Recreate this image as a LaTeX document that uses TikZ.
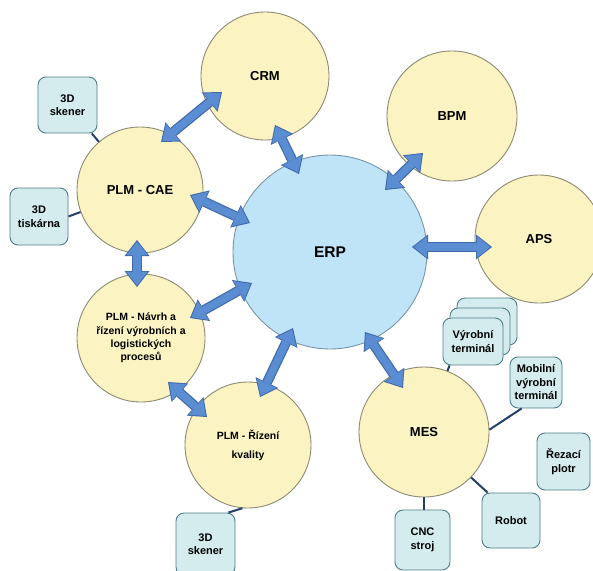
\documentclass[tikz,border=0pt]{standalone}
\usepackage{fontspec}
\setmainfont{Liberation Sans}
\usetikzlibrary{arrows.meta,calc}
\definecolor{yfill}{RGB}{251,243,193}
\definecolor{ydraw}{RGB}{140,138,115}
\definecolor{efill}{RGB}{191,228,247}
\definecolor{edraw}{RGB}{120,150,170}
\definecolor{bfill}{RGB}{213,236,239}
\definecolor{bdraw}{RGB}{78,125,135}
\definecolor{linkc}{RGB}{35,64,106}
\definecolor{arrf}{RGB}{91,141,211}
\definecolor{arrd}{RGB}{63,105,170}
\newcommand\biarr[2]{\draw[arrout] #1 -- #2; \draw[arrin] #1 -- #2;}
\begin{document}
\begin{tikzpicture}[x=1pt,y=1pt,
  yc/.style={circle,draw=ydraw,fill=yfill,line width=0.9pt,inner sep=0pt,align=center,
    font=\bfseries\fontsize{13}{15}\selectfont},
  box/.style={rounded corners=8pt,draw=bdraw,fill=bfill,line width=0.9pt,inner sep=0pt,align=center,
    font=\bfseries\fontsize{11}{13.5}\selectfont},
  link/.style={draw=linkc,line width=2pt},
  arrout/.style={draw=arrd,line width=10pt,
    {Triangle[width=25pt,length=16pt,line width=0pt]}-{Triangle[width=25pt,length=16pt,line width=0pt]}},
  arrin/.style={draw=arrf,line width=7.6pt,shorten <=1.7pt,shorten >=1.7pt,
    {Triangle[width=21.5pt,length=13.5pt,line width=0pt]}-{Triangle[width=21.5pt,length=13.5pt,line width=0pt]}},
]
\clip (0,0) rectangle (593,-570);
\fill[white] (0,0) rectangle (593,-570);

% main circles
\node[circle,draw=edraw,fill=efill,line width=0.9pt,minimum size=194pt,inner sep=0pt,
  font=\bfseries\fontsize{15.5}{17}\selectfont] (erp) at (330,-252) {ERP};
\node[yc,minimum size=128pt] (crm) at (265,-76) {CRM};
\node[yc,minimum size=130pt] (bpm) at (452,-116) {BPM};
\node[yc,minimum size=128pt] (aps) at (539,-239) {APS};
\node[yc,minimum size=126pt] (cae) at (140,-190) {PLM - CAE};
\node[yc,minimum size=128pt,font=\bfseries\fontsize{10.5}{13.3}\selectfont] (navrh) at (141,-338)
  {PLM - Návrh a\\řízení výrobních a\\logistických\\procesů};
\node[yc,minimum size=126pt,font=\bfseries\fontsize{10.5}{19}\selectfont] (rizeni) at (248,-445)
  {PLM - Řízení\\kvality};
\node[yc,minimum size=130pt] (mes) at (424,-432) {MES};

% small boxes
\node[box,minimum width=59pt,minimum height=56pt] (sk1) at (67.5,-105) {3D\\skener};
\node[box,minimum width=58pt,minimum height=57pt] (tisk) at (39,-216.5) {3D\\tiskárna};
\node[box,minimum width=60pt,minimum height=47pt] (vyr3) at (487,-321.5) {};
\node[box,minimum width=60pt,minimum height=47pt] (vyr2) at (480,-331.5) {};
\node[box,minimum width=60pt,minimum height=47pt] (vyr) at (473,-341.5) {Výrobní\\terminál};
\node[box,minimum width=52pt,minimum height=51pt] (mob) at (536,-382.5) {Mobilní\\výrobní\\terminál};
\node[box,minimum width=53pt,minimum height=57pt] (rez) at (563.5,-461.5) {Řezací\\plotr};
\node[box,minimum width=58pt,minimum height=55pt] (robot) at (511,-520.5) {Robot};
\node[box,minimum width=55pt,minimum height=60pt] (cnc) at (422.5,-540) {CNC\\stroj};
\node[box,minimum width=59pt,minimum height=62pt] (sk2) at (205.5,-544) {3D\\skener};

% connector lines
\draw[link] (sk1) -- (cae);
\draw[link] (tisk.east) -- (cae);
\draw[link] ($(vyr.south west)+(7,0)$) -- (mes);
\draw[link] ($(mob.south west)+(12,0)$) -- (mes.2);
\draw[link] (mes.-44) -- ($(robot.north west)+(6,0)$);
\draw[link] (mes.south) -- (mes.south |- cnc.north);
\draw[link] (rizeni.265) -- ($(sk2.north east)+(-7,0)$);

% block arrows
\biarr{($(crm)+(-43,-16)$)}{($(cae)+(21,48)$)}
\biarr{($(crm)+(10,-49)$)}{($(erp)+(-31,78)$)}
\biarr{($(cae)+(50,-5)$)}{($(erp)+(-80,29)$)}
\biarr{($(bpm)+(-29,-37)$)}{($(erp)+(55,62)$)}
\biarr{($(erp)+(82,5)$)}{($(aps)+(-47,-8)$)}
\biarr{($(navrh)+(49,20)$)}{($(erp)+(-78,-31)$)}
\biarr{($(erp)+(-37,-76)$)}{($(rizeni)+(12,48)$)}
\biarr{($(erp)+(35,-80)$)}{($(mes)+(-21,44)$)}
\biarr{($(cae)+(-3,-50)$)}{($(navrh)+(-4,51)$)}
\biarr{($(navrh)+(27,-44)$)}{($(rizeni)+(-41,28)$)}
\end{tikzpicture}
\end{document}
